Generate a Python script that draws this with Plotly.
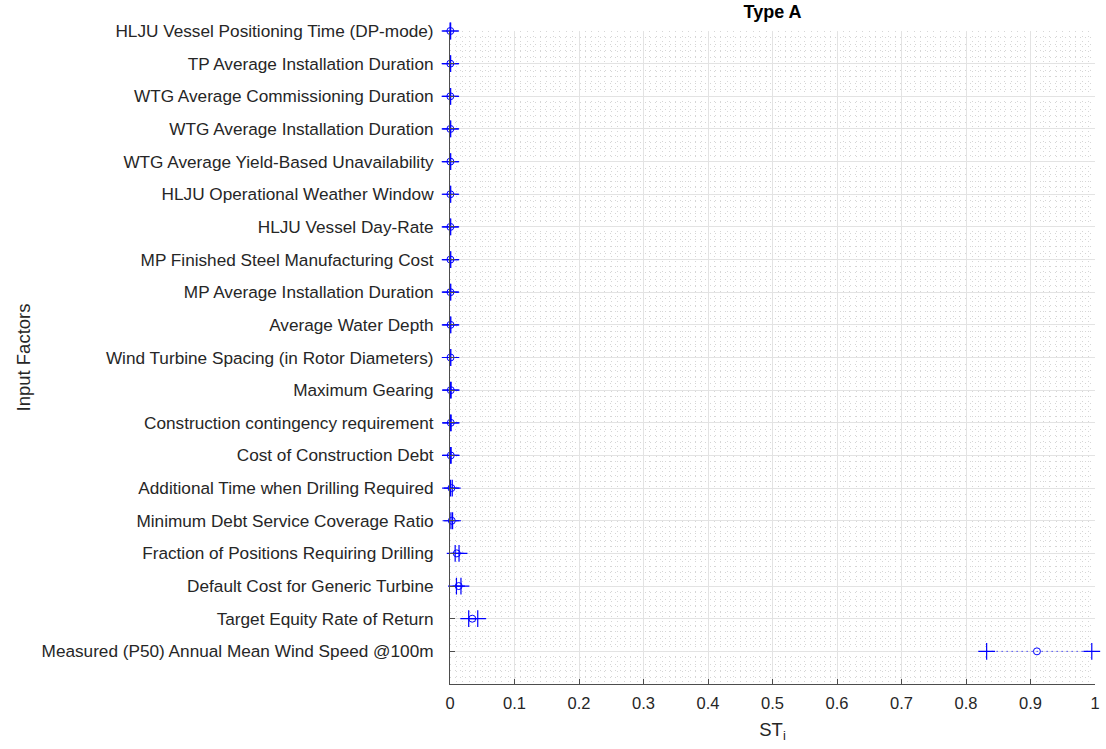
import plotly.graph_objects as go

factors = [
    "HLJU Vessel Positioning Time (DP-mode)",
    "TP Average Installation Duration",
    "WTG Average Commissioning Duration",
    "WTG Average Installation Duration",
    "WTG Average Yield-Based Unavailability",
    "HLJU Operational Weather Window",
    "HLJU Vessel Day-Rate",
    "MP Finished Steel Manufacturing Cost",
    "MP Average Installation Duration",
    "Average Water Depth",
    "Wind Turbine Spacing (in Rotor Diameters)",
    "Maximum Gearing",
    "Construction contingency requirement",
    "Cost of Construction Debt",
    "Additional Time when Drilling Required",
    "Minimum Debt Service Coverage Ratio",
    "Fraction of Positions Requiring Drilling",
    "Default Cost for Generic Turbine",
    "Target Equity Rate of Return",
    "Measured (P50) Annual Mean Wind Speed @100m",
]
st_est = [0.0005, 0.0005, 0.0005, 0.0006, 0.0006, 0.0006, 0.0006, 0.0007, 0.0007, 0.0008,
          0.0008, 0.0012, 0.0012, 0.0012, 0.0022, 0.0028, 0.0105, 0.0135, 0.0345, 0.910]
st_lo = [0.0001, 0.0001, 0.0001, 0.0002, 0.0002, 0.0002, 0.0002, 0.0003, 0.0003, 0.0003,
         0.0003, 0.0006, 0.0006, 0.0006, 0.0008, 0.0015, 0.0080, 0.0100, 0.0290, 0.832]
st_hi = [0.0010, 0.0010, 0.0010, 0.0011, 0.0011, 0.0011, 0.0011, 0.0012, 0.0012, 0.0013,
         0.0013, 0.0018, 0.0018, 0.0018, 0.0035, 0.0040, 0.0140, 0.0170, 0.0430, 0.995]
x_ticks = [0, 0.1, 0.2, 0.3, 0.4, 0.5, 0.6, 0.7, 0.8, 0.9, 1]
x_labels = ["0", "0.1", "0.2", "0.3", "0.4", "0.5", "0.6", "0.7", "0.8", "0.9", "1"]

n = len(factors)
ypos = [n - i for i in range(n)]

BLUE = "#0000ff"
FONT = "Liberation Sans, Arial, sans-serif"

W, H = 1106, 749
ML, MR, MT, MB = 450, 11, 31, 65

fig = go.Figure()

# dotted CI lines
lx, ly = [], []
for lo, hi, y in zip(st_lo, st_hi, ypos):
    lx += [lo, hi, None]
    ly += [y, y, None]
fig.add_trace(go.Scatter(x=lx, y=ly, mode="lines",
                         line=dict(color=BLUE, width=1, dash="1px,4px"),
                         hoverinfo="skip", showlegend=False, cliponaxis=False))

# CI endpoints
fig.add_trace(go.Scatter(x=st_lo + st_hi, y=ypos + ypos, mode="markers",
                         marker=dict(symbol="cross-thin", size=12,
                                     line=dict(color=BLUE, width=1.2)),
                         showlegend=False, cliponaxis=False))

# estimates
fig.add_trace(go.Scatter(x=st_est, y=ypos, mode="markers",
                         marker=dict(symbol="circle-open", size=7,
                                     line=dict(color=BLUE, width=1), color=BLUE),
                         showlegend=False, cliponaxis=False))

fig.update_layout(
    width=W, height=H,
    margin=dict(l=ML, r=MR, t=MT, b=MB, autoexpand=False),
    paper_bgcolor="white", plot_bgcolor="white",
    font=dict(family=FONT, size=17, color="#262626"),
    title=dict(text="<b>Type A</b>", x=(ML + (W - MR)) / 2 / W, xanchor="center",
               y=1 - 12 / H, yanchor="middle",
               font=dict(family=FONT, size=18, color="#000000")),
    xaxis=dict(
        range=[0, 1], tickvals=x_ticks, ticktext=x_labels,
        showline=True, linecolor="#4d4d4d", linewidth=1,
        ticks="inside", ticklen=5, tickcolor="#4d4d4d",
        showgrid=True, gridcolor="#e3e3e3", gridwidth=1,
        zeroline=False, mirror=False, automargin=False,
        minor=dict(dtick=0.01, showgrid=True, gridcolor="#d6d6d6", griddash="1px,4px", gridwidth=1),
        title=dict(text="ST<sub>i</sub>", standoff=12, font=dict(size=18.5)),
        tickfont=dict(size=16.5),
        ticklabelstandoff=4,
    ),
    yaxis=dict(
        range=[0, n], tickvals=ypos, ticktext=factors,
        showline=True, linecolor="#4d4d4d", linewidth=1,
        ticks="inside", ticklen=5, tickcolor="#4d4d4d",
        showgrid=True, gridcolor="#e3e3e3", gridwidth=1,
        zeroline=False, mirror=False, automargin=False,
        minor=dict(dtick=0.2, showgrid=True, gridcolor="#d6d6d6", griddash="1px,4px", gridwidth=1),
        title=dict(text="Input Factors", standoff=6, font=dict(size=18.5)),
        tickfont=dict(size=17.2),
        ticklabelstandoff=12,
    ),
)

# remove the default 8px page margin so the figure sits at the window origin
fig.write_html("out.html", config={"displayModeBar": False},
               post_script="document.body.style.margin='0px';")
